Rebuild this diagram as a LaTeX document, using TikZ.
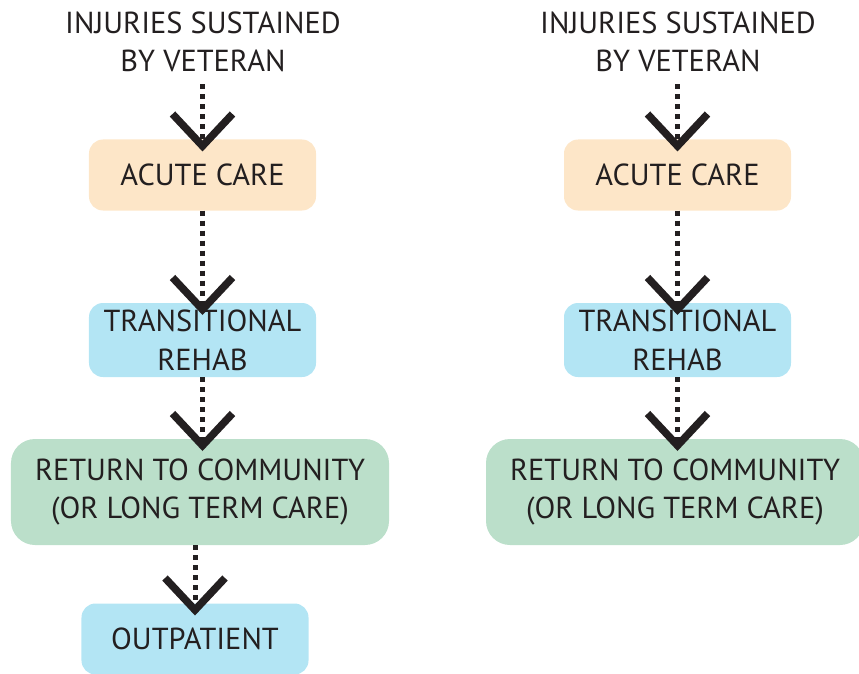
\documentclass[tikz,border=0pt]{standalone}
\usepackage{fontspec}
\setmainfont{PT Sans}
\usetikzlibrary{arrows.meta, positioning}
\definecolor{acutefill}{HTML}{FDE6C8}
\definecolor{rehabfill}{HTML}{B3E5F4}
\definecolor{returnfill}{HTML}{BBDFCA}
\definecolor{inkdark}{HTML}{231F20}

\begin{document}
\begin{tikzpicture}[x=1bp, y=-1bp]
% Define box and arrow styles
\tikzstyle{stage} = [rectangle, rounded corners=14bp, text=inkdark, align=center, outer sep=0pt, inner sep=0pt, font=\fontsize{30.5}{39}\selectfont]
\tikzstyle{acute} = [stage, fill=acutefill, minimum width=227bp, minimum height=71bp]
\tikzstyle{rehab} = [stage, fill=rehabfill, minimum width=227bp, minimum height=74bp]
\tikzstyle{back} = [stage, fill=returnfill, rounded corners=24bp, minimum width=378bp, minimum height=106bp]
\tikzstyle{title} = [text=inkdark, align=center, inner sep=0pt, font=\fontsize{30.5}{38}\selectfont]
\tikzstyle{flow} = [draw=inkdark, line width=5bp, dash pattern=on 5bp off 5bp, shorten <=12bp, shorten >=-12bp,
  -{Straight Barb[length=32bp, width=60bp, line width=7.5bp, sharp]}]
\useasboundingbox (0,0) rectangle (859,674);
% Left chain
\node[title] (InjuriesLeft) at (203,42) {INJURIES SUSTAINED\\BY VETERAN};
\node[acute] (AcuteLeft) at (202.5,175) {ACUTE CARE};
\node[rehab] (RehabLeft) at (202.5,340) {TRANSITIONAL\\REHAB};
\node[back] (ReturnLeft) at (200,492) {RETURN TO COMMUNITY\\(OR LONG TERM CARE)};
\node[rehab, minimum height=71bp] (Outpatient) at (195,639) {OUTPATIENT};
% Right chain
\node[title] (InjuriesRight) at (678,42) {INJURIES SUSTAINED\\BY VETERAN};
\node[acute] (AcuteRight) at (677.5,175) {ACUTE CARE};
\node[rehab] (RehabRight) at (677.5,340) {TRANSITIONAL\\REHAB};
\node[back] (ReturnRight) at (675,492) {RETURN TO COMMUNITY\\(OR LONG TERM CARE)};
% Connectors
\draw[flow] (InjuriesLeft.south -| AcuteLeft.north) -- (AcuteLeft.north);
\draw[flow, shorten <=0pt] (AcuteLeft.south) -- (RehabLeft.north);
\draw[flow, shorten <=0pt] (RehabLeft.south) -- (RehabLeft.south |- ReturnLeft.north);
\draw[flow, shorten <=0pt] (Outpatient.north |- ReturnLeft.south) -- (Outpatient.north);
\draw[flow] (InjuriesRight.south -| AcuteRight.north) -- (AcuteRight.north);
\draw[flow, shorten <=0pt] (AcuteRight.south) -- (RehabRight.north);
\draw[flow, shorten <=0pt] (RehabRight.south) -- (RehabRight.south |- ReturnRight.north);
\end{tikzpicture}
\end{document}
